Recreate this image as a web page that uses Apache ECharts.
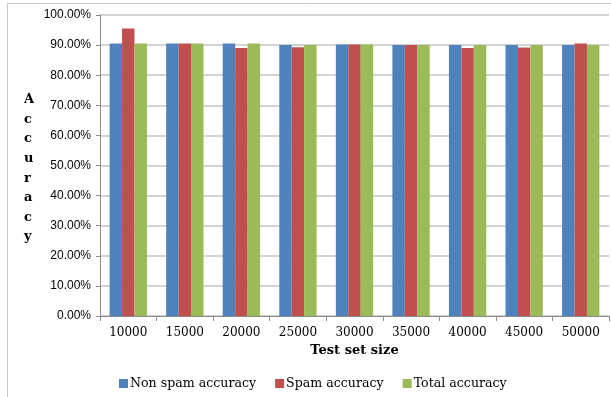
<!DOCTYPE html>
<html>
<head>
<meta charset="utf-8">
<script src="https://cdn.jsdelivr.net/npm/echarts@6/dist/echarts.min.js"></script>
<style>
  html, body { margin: 0; padding: 0; background: #fff; }
  #chart { width: 611px; height: 397px; }
</style>
</head>
<body>
<div id="chart"></div>
<script>
// Test set sizes on the x axis
const categories = ['10000', '15000', '20000', '25000', '30000', '35000', '40000', '45000', '50000'];
// Accuracy (%) per test set size
const nonSpamAccuracy = [90.55, 90.55, 90.5, 90.0, 90.2, 90.0, 90.0, 90.0, 90.0];
const spamAccuracy    = [95.5, 90.55, 89.0, 89.3, 90.2, 90.0, 89.0, 89.2, 90.5];
const totalAccuracy   = [90.5, 90.5, 90.5, 90.0, 90.2, 90.0, 90.0, 90.0, 90.0];
const seriesNames = ['Non spam accuracy', 'Spam accuracy', 'Total accuracy'];
const colors = ['#4F81BD', '#C0504D', '#9BBB59'];

const serif = '"DejaVu Serif", "Liberation Serif", serif';
const sans = '"Liberation Sans", Arial, sans-serif';

const chart = echarts.init(document.getElementById('chart'), null, { renderer: 'canvas' });

const makeSeries = (name, data, color) => ({
  name: name,
  type: 'bar',
  data: data,
  barGap: '0%',
  barCategoryGap: '34%',
  itemStyle: { color: color },
  emphasis: { disabled: true }
});

chart.setOption({
  animation: false,
  color: colors,
  grid: { left: 100, top: 15, right: 2, bottom: 81, containLabel: false },
  legend: {
    data: seriesNames,
    bottom: 2,
    left: 114,
    itemWidth: 9,
    itemHeight: 9,
    itemGap: 19,
    icon: 'rect',
    textStyle: { fontFamily: serif, fontSize: 12.6, color: '#000', padding: [0, 0, 0, -3] }
  },
  xAxis: {
    type: 'category',
    data: categories,
    axisLine: { lineStyle: { color: '#8c8c8c', width: 1 } },
    axisTick: { show: true, length: 5, alignWithLabel: false, lineStyle: { color: '#8c8c8c' } },
    axisLabel: { fontFamily: serif, fontSize: 12, color: '#000', margin: 11 },
    name: 'Test set size',
    nameLocation: 'middle',
    nameGap: 28,
    nameTextStyle: { fontFamily: serif, fontSize: 13, fontWeight: 'bold', color: '#000' }
  },
  yAxis: {
    type: 'value',
    min: 0,
    max: 100,
    interval: 10,
    axisLine: { show: true, lineStyle: { color: '#8c8c8c', width: 1 } },
    axisTick: { show: true, length: 4, lineStyle: { color: '#8c8c8c' } },
    splitLine: { lineStyle: { color: '#c4c4c4', width: 1.5 } },
    axisLabel: {
      fontFamily: sans, fontSize: 12, color: '#000', margin: 9,
      formatter: v => v.toFixed(2) + '%'
    }
  },
  graphic: [
    {
      type: 'rect',
      shape: { x: 7.5, y: 3.5, width: 700, height: 500 },
      style: { fill: 'none', stroke: '#c8c8c8', lineWidth: 1 },
      silent: true, z: -1
    },
    {
      type: 'text',
      left: 24,
      top: 90,
      style: {
        text: 'Accuracy'.split('').join('\n'),
        fontFamily: serif,
        fontSize: 13,
        fontWeight: 'bold',
        fill: '#000',
        lineHeight: 19.6,
        align: 'center',
        width: 14
      }
    }
  ],
  series: [
    makeSeries(seriesNames[0], nonSpamAccuracy, colors[0]),
    makeSeries(seriesNames[1], spamAccuracy, colors[1]),
    makeSeries(seriesNames[2], totalAccuracy, colors[2])
  ]
});
</script>
</body>
</html>
